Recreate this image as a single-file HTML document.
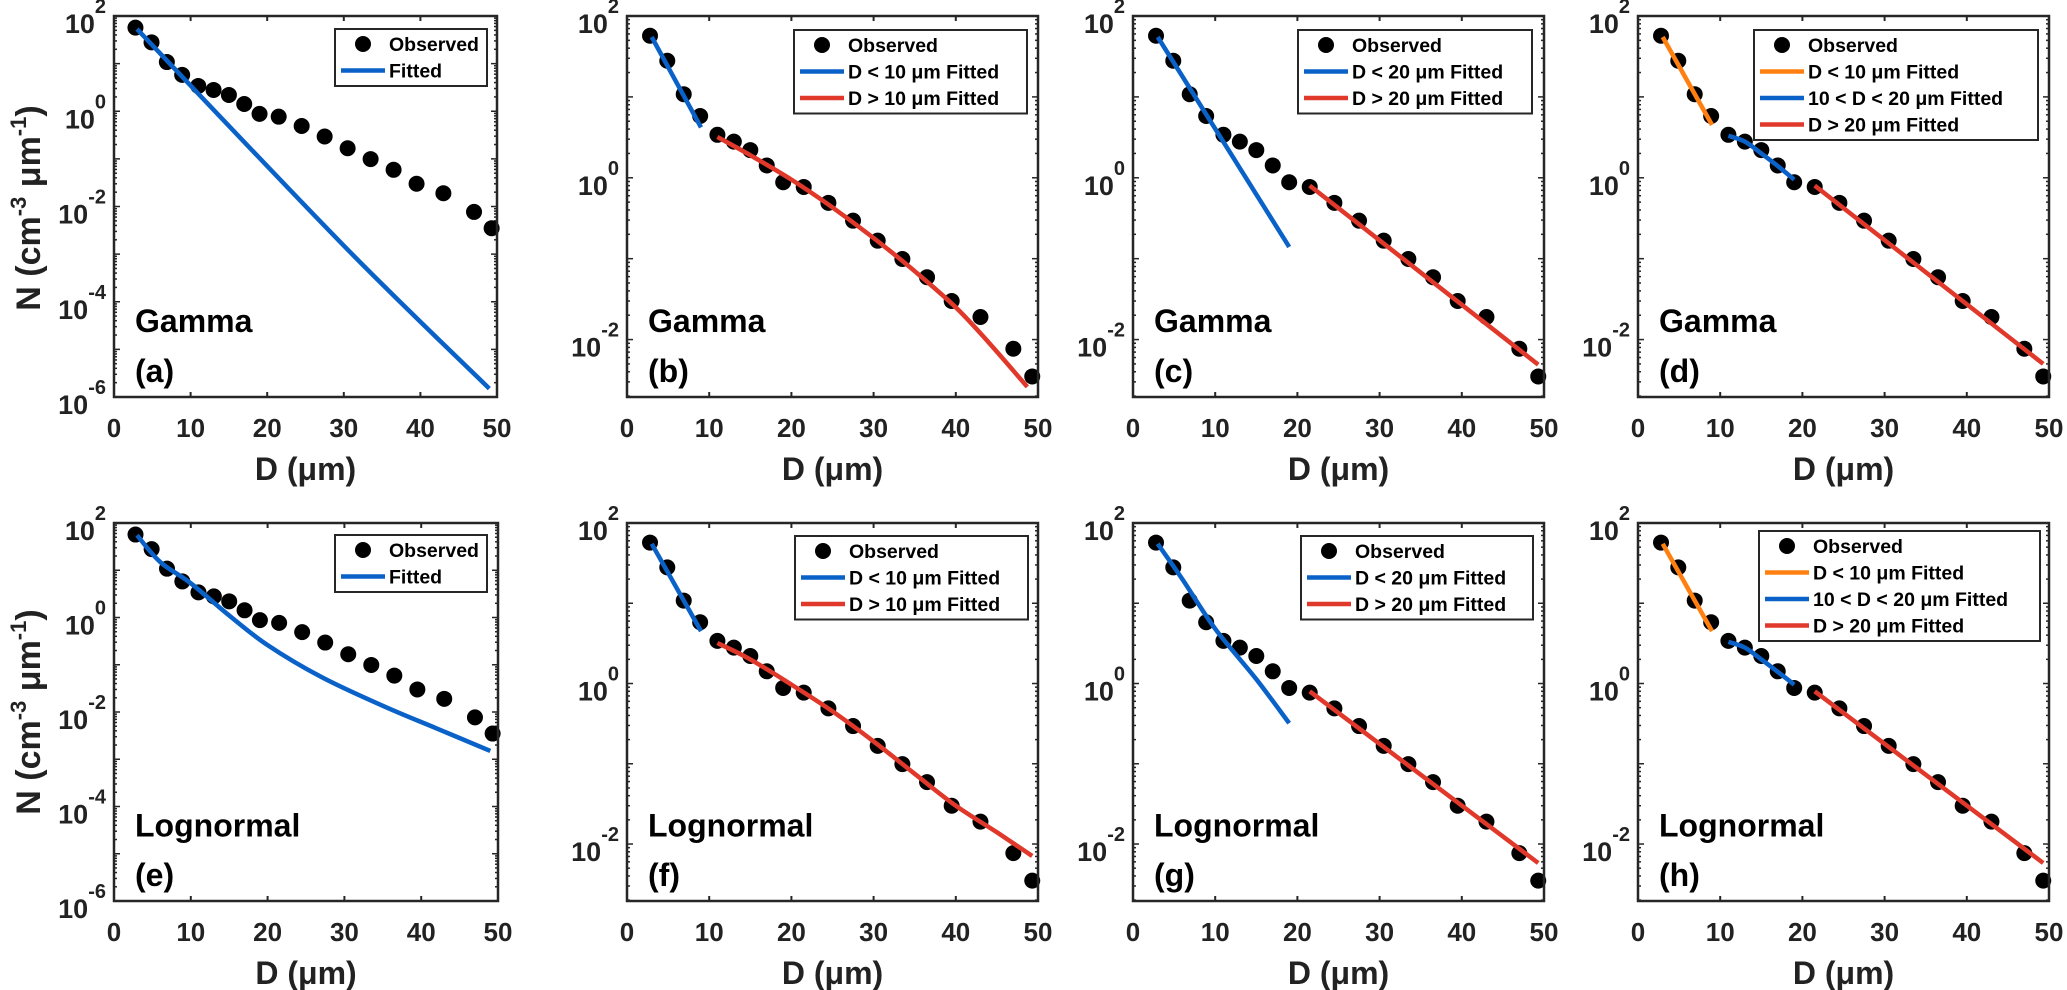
<!DOCTYPE html>
<html><head><meta charset="utf-8"><style>
html,body{margin:0;padding:0;background:#fff;}
svg{display:block;font-family:"Liberation Sans",Arial,sans-serif;font-weight:bold;}
</style></head>
<body>
<svg id="fig" width="2067" height="990" viewBox="0 0 2067 990" xmlns="http://www.w3.org/2000/svg">
<text transform="translate(40,208) rotate(-90)" text-anchor="middle" font-size="34" fill="#222">N (cm<tspan font-size="22" dy="-14">-3</tspan><tspan dy="14"> μm</tspan><tspan font-size="22" dy="-14">-1</tspan><tspan dy="14">)</tspan></text>
<text transform="translate(40,712) rotate(-90)" text-anchor="middle" font-size="34" fill="#222">N (cm<tspan font-size="22" dy="-14">-3</tspan><tspan dy="14"> μm</tspan><tspan font-size="22" dy="-14">-1</tspan><tspan dy="14">)</tspan></text>
</svg>
<script>
// Observed data (same in every panel)
const obsD = [2.8,4.9,6.9,8.9,11,13,15,17,19,21.5,24.5,27.5,30.5,33.5,36.5,39.5,43,47,49.3];
const obsN = [57,28,10.8,5.8,3.4,2.8,2.2,1.42,0.88,0.77,0.49,0.295,0.167,0.099,0.059,0.030,0.019,0.0077,0.0035];
const xTicks = [0,10,20,30,40,50];
// Fitted curves
const aFitD = [3,30,49];            const aFitN = [53,0.0015,1.5e-6];
const bBlueD = [3,9];               const bBlueN = [55,4.2];
const bRedD = [11,15,20,25,30,35,40,44,48.7];
const bRedN = [3.2,1.9,0.95,0.43,0.18,0.07,0.025,0.0092,0.0026];
const cBlueD = [3,19];              const cBlueN = [55,0.14];
const cRedD = [21.5,49.3];          const cRedN = [0.8,0.0049];
const dOrD = [3,9];                 const dOrN = [55,4.5];
const dBlueD = [11,13,15,17,19];    const dBlueN = [3.3,2.8,2.0,1.4,0.95];
const dRedD = [21.5,49.3];          const dRedN = [0.8,0.005];
const eFitD = [3,6,10,15,20,27,35,42,49];
const eFitN = [55,15,5.3,1.1,0.26,0.055,0.0135,0.0045,0.0015];
const fBlueD = [3,9];               const fBlueN = [55,4.5];
const fRedD = [11,15,20,25,30,35,40,45,49.3];
const fRedN = [3.2,2.0,0.97,0.45,0.19,0.075,0.03,0.014,0.0071];
const gBlueD = [3,6,10,15,19];      const gBlueN = [55,20,4.8,1.13,0.32];
const gRedD = [21.5,49.3];          const gRedN = [0.8,0.0058];
const hOrD = [3,9];                 const hOrN = [55,4.5];
const hBlueD = [11,13,15,17,19];    const hBlueN = [3.3,2.8,2.0,1.4,0.97];
const hRedD = [21.5,49.3];          const hRedN = [0.8,0.0058];

const BLUE="#0a62c8", RED="#e0382a", ORANGE="#ff8010";
const NS="http://www.w3.org/2000/svg";
const svg=document.getElementById('fig');
function mk(tag,attrs,parent){const e=document.createElementNS(NS,tag);for(const k in attrs)e.setAttribute(k,attrs[k]);(parent||svg).appendChild(e);return e;}
function smooth(P){
  if(P.length<3) return 'M'+P.map(p=>p[0].toFixed(1)+','+p[1].toFixed(1)).join(' L');
  let d='M'+P[0][0].toFixed(1)+','+P[0][1].toFixed(1);
  for(let i=0;i<P.length-1;i++){
    const p0=P[i-1]||P[i],p1=P[i],p2=P[i+1],p3=P[i+2]||P[i+1];
    const c1=[p1[0]+(p2[0]-p0[0])/6,p1[1]+(p2[1]-p0[1])/6];
    const c2=[p2[0]-(p3[0]-p1[0])/6,p2[1]-(p3[1]-p1[1])/6];
    d+=' C'+c1.map(v=>v.toFixed(1)).join(',')+' '+c2.map(v=>v.toFixed(1)).join(',')+' '+p2[0].toFixed(1)+','+p2[1].toFixed(1);
  }
  return d;
}

const panels=[
 {id:'a',L:114,R:497,T:16,B:397,y0:-6,y1:2,yt:[-6,-4,-2,0,2],model:'Gamma',lg:[335,29,487],
  fits:[{d:aFitD,n:aFitN,c:BLUE,lab:'Fitted'}]},
 {id:'b',L:627,R:1038,T:16,B:397,y0:-2.71,y1:2,yt:[-2,0,2],model:'Gamma',lg:[794,30,1027],
  fits:[{d:bBlueD,n:bBlueN,c:BLUE,lab:'D < 10 μm Fitted'},{d:bRedD,n:bRedN,c:RED,lab:'D > 10 μm Fitted'}]},
 {id:'c',L:1133,R:1544,T:16,B:397,y0:-2.71,y1:2,yt:[-2,0,2],model:'Gamma',lg:[1298,30,1532],
  fits:[{d:cBlueD,n:cBlueN,c:BLUE,lab:'D < 20 μm Fitted'},{d:cRedD,n:cRedN,c:RED,lab:'D > 20 μm Fitted'}]},
 {id:'d',L:1638,R:2049,T:16,B:397,y0:-2.71,y1:2,yt:[-2,0,2],model:'Gamma',lg:[1754,30,2038],
  fits:[{d:dOrD,n:dOrN,c:ORANGE,lab:'D < 10 μm Fitted'},{d:dBlueD,n:dBlueN,c:BLUE,lab:'10 < D < 20 μm Fitted'},{d:dRedD,n:dRedN,c:RED,lab:'D > 20 μm Fitted'}]},
 {id:'e',L:114,R:498,T:523,B:901,y0:-6,y1:2,yt:[-6,-4,-2,0,2],model:'Lognormal',lg:[335,535,487],
  fits:[{d:eFitD,n:eFitN,c:BLUE,lab:'Fitted'}]},
 {id:'f',L:627,R:1038,T:523,B:901,y0:-2.71,y1:2,yt:[-2,0,2],model:'Lognormal',lg:[795,536,1028],
  fits:[{d:fBlueD,n:fBlueN,c:BLUE,lab:'D < 10 μm Fitted'},{d:fRedD,n:fRedN,c:RED,lab:'D > 10 μm Fitted'}]},
 {id:'g',L:1133,R:1544,T:523,B:901,y0:-2.71,y1:2,yt:[-2,0,2],model:'Lognormal',lg:[1301,536,1533],
  fits:[{d:gBlueD,n:gBlueN,c:BLUE,lab:'D < 20 μm Fitted'},{d:gRedD,n:gRedN,c:RED,lab:'D > 20 μm Fitted'}]},
 {id:'h',L:1638,R:2049,T:523,B:901,y0:-2.71,y1:2,yt:[-2,0,2],model:'Lognormal',lg:[1759,531,2040],
  fits:[{d:hOrD,n:hOrN,c:ORANGE,lab:'D < 10 μm Fitted'},{d:hBlueD,n:hBlueN,c:BLUE,lab:'10 < D < 20 μm Fitted'},{d:hRedD,n:hRedN,c:RED,lab:'D > 20 μm Fitted'}]}
];

panels.forEach(p=>{
  const g=mk('g',{});
  
  
  const X=v=>p.L+(v/50)*(p.R-p.L);
  const Y=v=>p.B-(Math.log10(v)-p.y0)/(p.y1-p.y0)*(p.B-p.T);
  const YE=e=>p.B-(e-p.y0)/(p.y1-p.y0)*(p.B-p.T);
  const cp=mk('clipPath',{id:'clip'+p.id},g);
  mk('rect',{x:p.L,y:p.T,width:p.R-p.L,height:p.B-p.T},cp);
  xTicks.forEach(t=>{
    const x=X(t);
    mk('line',{x1:x,y1:p.B,x2:x,y2:p.B-5,stroke:'#262626','stroke-width':2},g);
    mk('line',{x1:x,y1:p.T,x2:x,y2:p.T+5,stroke:'#262626','stroke-width':2},g);
    const tx=mk('text',{x:x,y:p.B+40,'text-anchor':'middle','font-size':26,fill:'#222'},g);
    
    
    tx.textContent=t;
  });
  for(let e=Math.floor(p.y0);e<p.y1;e++){
    for(let m=1;m<10;m++){
      const v=Math.log10(m)+e; if(v<p.y0||v>p.y1) continue;
      const y=YE(v), len=(m===1)?6:3;
      mk('line',{x1:p.L,y1:y,x2:p.L+len,y2:y,stroke:'#262626','stroke-width':1.5},g);
      mk('line',{x1:p.R,y1:y,x2:p.R-len,y2:y,stroke:'#262626','stroke-width':1.5},g);
    }
  }
  p.yt.forEach(e=>{
    const y=YE(e);
    const tx=mk('text',{x:p.L-8,y:y+17,'text-anchor':'end','font-size':27,fill:'#222'},g);
    
    
    tx.innerHTML='10<tspan font-size="20" dy="-20">'+e+'</tspan>';
  });
  obsD.forEach((d,k)=>{
    const c=mk('circle',{cx:X(d),cy:Y(obsN[k]),r:8,fill:'#000'},g);
    
    
  });
  p.fits.forEach((f,i)=>{
    const P=f.d.map((d,k)=>[X(d),Y(f.n[k])]);
    const pl=mk('path',{d:smooth(P),fill:'none',stroke:f.c,'stroke-width':4.5,'clip-path':'url(#clip'+p.id+')'},g);
    
    
  });
  const box=mk('rect',{x:p.L,y:p.T,width:p.R-p.L,height:p.B-p.T,fill:'none',stroke:'#262626','stroke-width':2.5},g);
  
  
  const m=mk('text',{x:p.L+21,y:p.T+(p.B-p.T)*0.83,'font-size':32,fill:'#000'},g);
  
  
  m.textContent=p.model;
  const pl=mk('text',{x:p.L+21,y:p.T+(p.B-p.T)*0.96,'font-size':32,fill:'#000'},g);
  
  
  pl.textContent='('+p.id+')';
  const xl=mk('text',{x:(p.L+p.R)/2,y:p.B+83,'text-anchor':'middle','font-size':32,fill:'#222'},g);
  
  
  xl.textContent='D (μm)';
  const [lx,ly,lr]=p.lg;
  const rows=1+p.fits.length;
  const lgG=mk('g',{},g);
  
  
  mk('rect',{x:lx,y:ly,width:lr-lx,height:rows*26.5+4,fill:'#fff',stroke:'#262626','stroke-width':2},lgG);
  const r0=ly+15;
  mk('circle',{cx:lx+28,cy:r0,r:8,fill:'#000'},lgG);
  const t0=mk('text',{x:lx+54,y:r0+7,'font-size':19.5,fill:'#000'},lgG);
  
  
  t0.textContent='Observed';
  p.fits.forEach((f,i)=>{
    const ry=r0+26.5*(i+1);
    mk('line',{x1:lx+6,y1:ry,x2:lx+50,y2:ry,stroke:f.c,'stroke-width':4.5},lgG);
    const t=mk('text',{x:lx+54,y:ry+7,'font-size':19.5,fill:'#000'},lgG);
    
    
    t.textContent=f.lab;
  });
});
</script>
</body></html>
